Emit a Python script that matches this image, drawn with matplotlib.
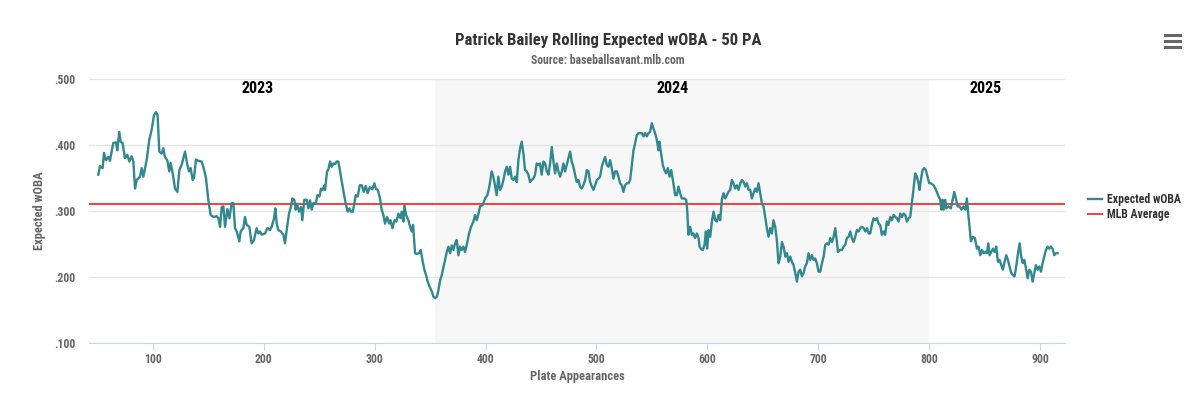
import matplotlib.pyplot as plt
from matplotlib.lines import Line2D
from matplotlib.ticker import FuncFormatter

plt.rcParams['font.family'] = ['Roboto Condensed', 'Roboto', 'DejaVu Sans']

# Rolling 50-PA expected wOBA
pa = [50.7, 52.2, 54.6, 55.8, 57.6, 59.7, 61.2, 62.7, 64.2, 66.6, 67.8, 69.6, 70.8, 72.6, 74.7,
      76.8, 78.7, 80.8, 82.3, 83.8, 85.3, 88.3, 89.8, 91.3, 94.3, 96.7, 98.8, 100.9, 102.7, 104.2,
      105.7, 107.8, 109.3, 110.8, 112.9, 114.7, 115.9, 117.8, 119.9, 122.0, 123.8, 125.9, 128.9,
      131.0, 132.5, 134.0, 135.8, 137.0, 138.8, 140.9, 143.9, 145.4, 147.8, 149.9, 152.0, 154.5,
      157.5, 159.0, 160.5, 162.0, 163.5, 165.0, 167.1, 168.9, 171.0, 172.5, 174.0, 175.5, 177.9,
      179.1, 181.5, 183.0, 184.5, 186.9, 189.0, 191.1, 193.5, 195.0, 196.6, 198.1, 201.1, 203.2,
      205.6, 207.1, 209.2, 210.4, 211.6, 213.1, 215.2, 217.6, 219.1,
      220.6, 222.7, 224.5, 225.7, 227.5, 228.7, 229.9, 231.7, 233.5, 234.7, 236.5, 238.7, 240.2,
      241.7, 243.2, 244.7, 246.8, 248.3, 250.1, 251.6, 253.1, 254.6, 255.2, 257.0, 258.2, 259.7,
      261.2, 262.7, 264.2, 265.7, 267.2, 268.7, 270.8, 272.6, 274.4, 275.7, 277.2, 278.7, 280.2,
      281.7, 282.9, 284.7, 286.5, 288.3, 290.1, 291.9, 293.7, 295.5, 297.9, 299.7, 300.9, 302.7,
      304.8, 306.3, 307.8, 309.3, 311.1, 313.0, 314.2, 316.0, 317.8, 319.6, 321.4, 323.2, 324.4,
      325.9, 326.8, 328.3, 330.4, 331.9, 333.4, 334.6, 336.4, 337.9, 340.0, 341.5, 343.0, 344.8,
      346.3, 347.8, 349.6, 351.5, 353.0, 354.5, 356.0, 357.5, 359.0, 360.5, 361.7, 363.5, 365.0,
      366.5, 368.0, 369.5, 371.0, 372.5, 374.0, 375.5, 377.0, 378.5, 380.0, 381.5, 383.3, 385.1,
      386.9, 389.0, 390.5, 392.0, 393.6,
      395.0, 397.4, 399.5, 401.6, 403.4, 405.5, 407.0, 408.5, 410.0, 411.5, 413.0, 414.6, 416.1,
      417.6, 419.1, 420.6, 422.1, 423.6, 425.1, 426.6, 428.1, 429.6, 431.1, 432.6, 434.1, 435.6,
      437.1, 438.6, 440.1, 441.6, 443.1, 444.6, 446.1, 447.6, 449.1, 450.6, 452.2, 453.7, 455.2,
      456.7, 458.2, 459.7, 461.2, 462.7, 464.2, 465.7, 467.2, 468.7, 470.2, 471.7, 473.2, 474.7,
      476.2, 477.7, 479.2, 480.7, 482.2, 483.7, 485.2, 486.7, 488.2, 489.8, 491.3, 492.8, 494.3,
      495.8, 497.3, 498.8, 500.3, 501.8, 503.3, 504.8, 506.3, 507.8, 509.3, 510.8, 512.3, 513.8,
      515.3, 516.8, 518.3, 519.8, 521.3, 522.8, 524.3, 525.8, 527.4, 528.9, 530.4, 531.9, 533.4,
      534.9, 536.4, 537.9, 539.4, 540.9, 542.4, 543.9, 545.4, 546.9, 548.4, 549.9, 551.4, 552.9,
      554.4, 555.9, 556.8, 558.3, 559.8, 561.3, 562.8, 564.4, 565.9, 567.4, 568.9,
      571.0, 572.5, 574.0, 575.5, 577.0, 579.4, 580.9, 581.8, 583.0, 584.5, 586.0, 587.5, 589.0,
      590.6, 592.1, 593.0, 594.5, 596.0, 597.5, 598.7, 599.9, 601.1, 602.6, 604.1, 605.6, 607.1,
      608.6, 610.1, 611.6, 613.1, 614.6, 616.1, 617.6, 619.1, 620.6, 622.1, 623.6, 625.1, 626.6,
      628.2, 629.7, 631.2, 632.7, 634.2, 635.7, 637.2, 638.7, 640.2, 641.7, 643.2, 644.7, 646.2,
      647.7, 649.2, 650.7, 652.2, 653.7, 655.2, 656.7, 658.2, 659.7, 661.2, 662.7, 664.2, 665.8,
      667.3, 668.8, 670.3, 671.8, 673.3, 674.8, 676.3, 677.8, 679.3, 680.8, 682.3, 683.8, 685.3,
      686.8, 688.3, 689.8, 691.3, 692.8, 694.3, 695.8, 697.3, 698.8, 700.3, 701.8, 703.4, 704.9,
      706.4, 707.9, 709.4, 710.9, 712.4, 713.9, 715.4, 716.9, 717.8, 719.9, 721.4, 722.9, 724.4,
      725.9, 727.4, 728.9, 730.4, 731.9, 733.4, 734.9, 736.4, 737.9, 739.4, 741.0, 742.5, 744.0,
      745.5,
      746.9, 748.4, 749.9, 751.4, 752.9, 754.4, 755.9, 757.4, 758.9, 760.4, 761.9, 763.4, 765.0,
      766.5, 768.0, 769.5, 771.0, 772.5, 774.0, 775.5, 777.0, 778.5, 780.0, 781.5, 783.0, 784.5,
      786.0, 787.5, 789.0, 790.5, 791.4, 792.6, 794.1, 795.6, 797.1, 798.6, 800.1, 801.6, 804.1,
      806.2, 808.6, 810.1, 811.0, 812.2, 813.1, 814.6, 815.5, 817.6, 819.7, 821.5, 822.7, 824.2,
      825.7, 827.5, 829.3, 831.1, 832.6, 834.1, 835.3, 836.5, 837.7, 839.5, 841.3, 843.2, 844.7,
      846.2, 847.7, 849.2, 850.7, 852.2, 853.4, 854.6, 856.1, 857.6, 859.1, 860.6, 862.1, 863.6,
      865.1, 866.6, 868.1, 869.6, 871.1, 872.6, 874.1, 875.6, 877.1, 878.6, 880.2, 881.7, 882.9,
      884.4, 885.9, 887.4, 888.9, 890.4, 891.9, 893.4, 894.9, 896.4, 897.9, 899.4, 900.9, 902.4,
      903.9, 905.4, 906.9, 908.4, 909.9, 911.4, 912.9, 914.4, 915.9]

xwoba = [0.355, 0.368, 0.365, 0.388, 0.377, 0.382, 0.376, 0.390, 0.403, 0.404, 0.392, 0.420, 0.405,
         0.403, 0.380, 0.385, 0.375, 0.383, 0.375, 0.334, 0.347, 0.352, 0.365, 0.352, 0.377, 0.408,
         0.423, 0.445, 0.450, 0.445, 0.390, 0.387, 0.395, 0.382, 0.377, 0.360, 0.373, 0.357, 0.334,
         0.329, 0.362, 0.370, 0.390, 0.370, 0.360, 0.365, 0.347, 0.350, 0.378, 0.376, 0.375, 0.367,
         0.350, 0.317, 0.294, 0.291, 0.292, 0.289, 0.276, 0.306, 0.307, 0.276, 0.303, 0.289, 0.312,
         0.312, 0.274, 0.269, 0.254, 0.269, 0.274, 0.291, 0.279, 0.276, 0.251, 0.256, 0.274, 0.266,
         0.269, 0.264, 0.266, 0.274, 0.271, 0.276, 0.289, 0.304, 0.281, 0.271, 0.269, 0.264, 0.251,
         0.271, 0.296, 0.307, 0.319, 0.317, 0.302, 0.311, 0.299, 0.306, 0.286, 0.317, 0.317, 0.304,
         0.316, 0.302, 0.312, 0.311, 0.324, 0.322, 0.334, 0.332, 0.339, 0.332, 0.360, 0.363, 0.375,
         0.367, 0.372, 0.371, 0.375, 0.375, 0.360, 0.339, 0.322, 0.307, 0.299, 0.304, 0.299, 0.299,
         0.312, 0.324, 0.322, 0.339, 0.339, 0.329, 0.338, 0.327, 0.336, 0.333, 0.342, 0.334, 0.332,
         0.319, 0.302, 0.294, 0.281, 0.291, 0.281, 0.286, 0.274, 0.286, 0.284, 0.296, 0.289, 0.299,
         0.284, 0.308, 0.294, 0.286, 0.276, 0.269, 0.279, 0.236, 0.235, 0.236, 0.241, 0.226, 0.211,
         0.203, 0.193, 0.185, 0.178, 0.170, 0.168, 0.170, 0.180, 0.195, 0.203, 0.213, 0.226, 0.238,
         0.246, 0.236, 0.248, 0.241, 0.251, 0.256, 0.233, 0.246, 0.241, 0.246, 0.238, 0.251, 0.266,
         0.276, 0.284, 0.294, 0.286, 0.296,
         0.307, 0.309, 0.319, 0.324, 0.337, 0.360, 0.352, 0.339, 0.324, 0.352, 0.332, 0.337, 0.347,
         0.360, 0.367, 0.355, 0.367, 0.349, 0.347, 0.352, 0.344, 0.377, 0.395, 0.405, 0.387, 0.362,
         0.360, 0.355, 0.344, 0.347, 0.349, 0.355, 0.372, 0.370, 0.372, 0.355, 0.375, 0.372, 0.360,
         0.355, 0.372, 0.397, 0.375, 0.357, 0.372, 0.360, 0.352, 0.360, 0.372, 0.360, 0.370, 0.380,
         0.390, 0.375, 0.367, 0.355, 0.344, 0.347, 0.337, 0.334, 0.339, 0.347, 0.362, 0.360, 0.344,
         0.337, 0.332, 0.339, 0.347, 0.349, 0.352, 0.367, 0.375, 0.382, 0.370, 0.367, 0.377, 0.365,
         0.349, 0.360, 0.360, 0.352, 0.342, 0.339, 0.329, 0.339, 0.342, 0.342, 0.347, 0.370, 0.392,
         0.403, 0.415, 0.418, 0.418, 0.418, 0.413, 0.418, 0.413, 0.418, 0.420, 0.433, 0.425, 0.418,
         0.408, 0.392, 0.405, 0.387, 0.370, 0.362, 0.357, 0.365, 0.352, 0.362, 0.347,
         0.324, 0.324, 0.337, 0.327, 0.319, 0.319, 0.317, 0.302, 0.264, 0.276, 0.264, 0.266, 0.259,
         0.266, 0.259, 0.246, 0.242, 0.241, 0.249, 0.269, 0.243, 0.271, 0.261, 0.284, 0.299, 0.286,
         0.284, 0.294, 0.286, 0.317, 0.327, 0.319, 0.324, 0.329, 0.332, 0.347, 0.342, 0.334, 0.339,
         0.332, 0.342, 0.347, 0.344, 0.337, 0.342, 0.332, 0.332, 0.319, 0.327, 0.334, 0.329, 0.342,
         0.327, 0.312, 0.307, 0.291, 0.274, 0.261, 0.274, 0.266, 0.286, 0.276, 0.256, 0.221, 0.231,
         0.253, 0.246, 0.231, 0.236, 0.223, 0.231, 0.223, 0.218, 0.206, 0.193, 0.208, 0.211, 0.201,
         0.206, 0.216, 0.221, 0.236, 0.226, 0.233, 0.226, 0.228, 0.221, 0.208, 0.208, 0.221, 0.231,
         0.249, 0.251, 0.249, 0.259, 0.253, 0.261, 0.274, 0.253, 0.238, 0.241, 0.241, 0.246, 0.249,
         0.259, 0.261, 0.269, 0.259, 0.253, 0.261, 0.271, 0.269, 0.274, 0.276, 0.274, 0.269, 0.274,
         0.266,
         0.266, 0.279, 0.289, 0.286, 0.289, 0.281, 0.279, 0.264, 0.269, 0.264, 0.284, 0.279, 0.291,
         0.286, 0.294, 0.291, 0.289, 0.284, 0.296, 0.291, 0.296, 0.294, 0.284, 0.289, 0.291, 0.312,
         0.334, 0.357, 0.352, 0.342, 0.332, 0.347, 0.362, 0.365, 0.362, 0.352, 0.342, 0.342, 0.339,
         0.332, 0.322, 0.317, 0.302, 0.317, 0.302, 0.317, 0.304, 0.307, 0.304, 0.319, 0.329, 0.319,
         0.307, 0.307, 0.302, 0.307, 0.302, 0.319, 0.296, 0.276, 0.254, 0.261, 0.259, 0.243, 0.246,
         0.233, 0.241, 0.236, 0.238, 0.236, 0.251, 0.233, 0.238, 0.243, 0.238, 0.246, 0.223, 0.226,
         0.218, 0.211, 0.223, 0.233, 0.226, 0.216, 0.206, 0.203, 0.201, 0.216, 0.236, 0.251, 0.233,
         0.221, 0.226, 0.213, 0.198, 0.211, 0.208, 0.193, 0.206, 0.218, 0.211, 0.216, 0.208, 0.221,
         0.231, 0.241, 0.246, 0.243, 0.246, 0.243, 0.233, 0.236, 0.236]

mlb_avg = 0.310
season_2024 = (354.5, 800)
year_labels = ['2023', '2024', '2025']
year_label_pa = [194, 569, 851]

fig = plt.figure(figsize=(12, 3.94), dpi=100)
ax = fig.add_axes([89/1200, 1 - 343/394, (1065 - 89)/1200, (343 - 79)/394])

ax.axvspan(*season_2024, color='#f7f7f7', lw=0, zorder=0)
ax.plot(pa, xwoba, color='#31898f', lw=1.7, label='Expected wOBA', zorder=3)
ax.axhline(mlb_avg, color='#ff3b3b', lw=1.4, label='MLB Average', zorder=2)

for lab, x in zip(year_labels, year_label_pa):
    ax.text(x, 0.486, lab, ha='center', va='center', fontsize=11.5, fontweight='bold', color='black')

ax.set_xlim(42.3, 922.6)
ax.set_ylim(0.1, 0.5)
ax.set_xticks(range(100, 1000, 100))
ax.set_yticks([0.1, 0.2, 0.3, 0.4, 0.5])
ax.yaxis.set_major_formatter(FuncFormatter(lambda v, _: f'{v:.3f}'[1:]))
ax.grid(axis='y', color='#e6e6e6', lw=1)
ax.set_axisbelow(True)
for s in ['top', 'right', 'left']:
    ax.spines[s].set_visible(False)
ax.spines['bottom'].set_color('#ccd6eb')
ax.tick_params(axis='x', length=5, color='#ccd6eb', pad=2, labelsize=8.5, labelcolor='#666666')
ax.tick_params(axis='y', length=0, pad=10, labelsize=8.5, labelcolor='#666666')
for t in ax.get_xticklabels() + ax.get_yticklabels():
    t.set_fontweight('bold')

ax.set_xlabel('Plate Appearances', fontsize=9, fontweight='bold', color='#666666', labelpad=3)
ax.set_ylabel('Expected wOBA', fontsize=9, fontweight='bold', color='#666666', labelpad=6)

leg = fig.legend(loc='center left', bbox_to_anchor=(1080/1200, 1 - 207/394), frameon=False,
                 fontsize=8.5, handlelength=1.2, handletextpad=0.4, labelspacing=0.15,
                 borderpad=0.2)
for t in leg.get_texts():
    t.set_fontweight('bold')
    t.set_color('#333333')

fig.text(608/1200, 1 - 40/394, 'Patrick Bailey Rolling Expected wOBA - 50 PA', ha='center', va='center',
         fontsize=12, fontweight='bold', color='#333333')
fig.text(608/1200, 1 - 61/394, 'Source: baseballsavant.mlb.com', ha='center', va='center',
         fontsize=8.5, fontweight='bold', color='#666666')

# export menu icon (three bars)
for yb in (35, 41, 47):
    fig.add_artist(Line2D([1165/1200, 1180/1200], [1 - yb/394, 1 - yb/394],
                          transform=fig.transFigure, color='#666666', lw=2.2))

fig.savefig('out.png', dpi=100)
